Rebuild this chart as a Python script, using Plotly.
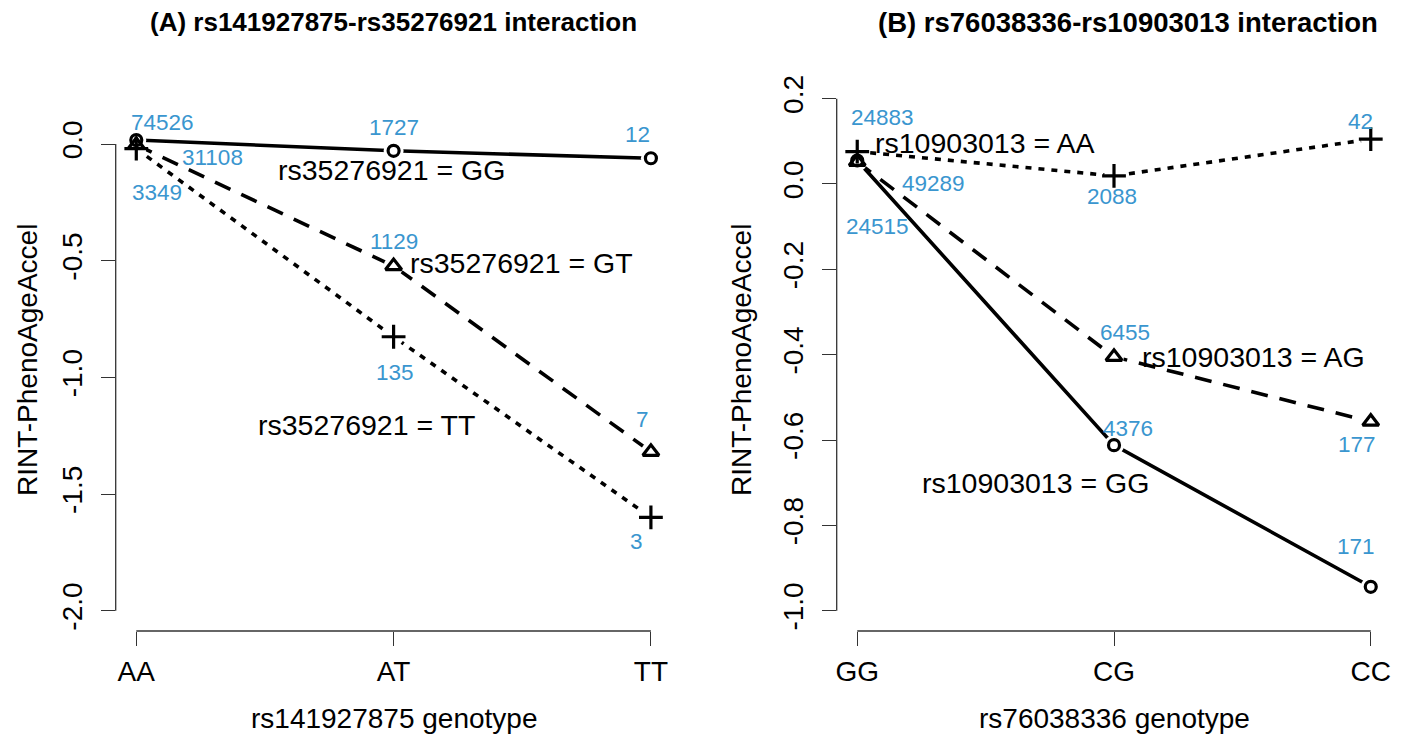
import plotly.graph_objects as go

# ---------------- data ----------------
a_categories = ["AA", "AT", "TT"]
a_series = ["rs35276921 = GG", "rs35276921 = GT", "rs35276921 = TT"]
a_gg = [0.017, -0.029, -0.061]
a_gt = [-0.004, -0.523, -1.319]
a_tt = [-0.020, -0.826, -1.600]
a_n_gg = [74526, 1727, 12]
a_n_gt = [31108, 1129, 7]
a_n_tt = [3349, 135, 3]
a_yticks = [0.0, -0.5, -1.0, -1.5, -2.0]

b_categories = ["GG", "CG", "CC"]
b_series = ["rs10903013 = AA", "rs10903013 = AG", "rs10903013 = GG"]
b_aa = [0.076, 0.019, 0.105]
b_ag = [0.052, -0.405, -0.557]
b_gg = [0.055, -0.612, -0.944]
b_n_aa = [24883, 2088, 42]
b_n_ag = [49289, 6455, 177]
b_n_gg = [24515, 4376, 171]
b_yticks = [0.2, 0.0, -0.2, -0.4, -0.6, -0.8, -1.0]

titles = ["(A) rs141927875-rs35276921 interaction", "(B) rs76038336-rs10903013 interaction"]
xtitles = ["rs141927875 genotype", "rs76038336 genotype"]
ytitle = "RINT-PhenoAgeAccel"

# ---------------- styles / positions ----------------
FONT = "Liberation Sans"
BLUE = "#3A96CF"
AXC = "#333333"
OFF = 8                      # page body margin of the browser
W, H = 1404 - OFF, 740 - OFF  # figure size


def px(x):
    return (x - OFF) / W


def py(y):
    return 1 - (y - OFF) / H


LW = 3.6
SOLID = dict(dash="solid", symbol="circle-open", size=11)
DASHED = dict(dash="17px,12px", symbol="triangle-up-open", size=14)
DOTTED = dict(dash="6px,7px", symbol="cross-thin-open", size=17)
a_styles = [SOLID, DASHED, DOTTED]
b_styles = [DOTTED, DASHED, SOLID]

# count label offsets (px) per series per category
a_off = [[(26, 18), (0, 23), (-13, 24)],
         [(76, -13), (0, 25), (-8, 32)],
         [(21, -44), (1, -36), (-14, -24)]]
b_off = [[(25, 34), (-2, -21), (-10, 18)],
         [(76, -22), (11, 24), (-14, -23)],
         [(20, -66), (14, 17), (-15, 40)]]
# series label positions (data coords)
a_lab_pos = [(1.993, -0.111), (2.497, -0.511), (1.896, -1.204)]
b_lab_pos = [(1.496, 0.096), (2.545, -0.405), (1.694, -0.701)]

ydom = [py(631), py(78)]
a_xdom = [px(115.7), px(671.5)]
b_xdom = [px(836.7), px(1391.3)]
a_yrange = [-2.087, 0.283]
b_yrange = [-1.0476, 0.2484]
xrange_ = [0.92, 3.08]
xpos = [1, 2, 3]

fig = go.Figure()

panels = [
    dict(xa="x", ya="y", series=[a_gg, a_gt, a_tt], counts=[a_n_gg, a_n_gt, a_n_tt],
         names=a_series, off=a_off, labpos=a_lab_pos, styles=a_styles),
    dict(xa="x2", ya="y2", series=[b_aa, b_ag, b_gg], counts=[b_n_aa, b_n_ag, b_n_gg],
         names=b_series, off=b_off, labpos=b_lab_pos, styles=b_styles),
]

for p in panels:
    for i, ys in enumerate(p["series"]):
        st = p["styles"][i]
        fig.add_trace(go.Scatter(x=xpos, y=ys, mode="lines", xaxis=p["xa"], yaxis=p["ya"],
                                 line=dict(color="black", width=LW, dash=st["dash"]),
                                 showlegend=False, hoverinfo="skip"))
    for i, ys in enumerate(p["series"]):
        fig.add_trace(go.Scatter(x=xpos, y=ys, mode="markers", xaxis=p["xa"], yaxis=p["ya"],
                                 marker=dict(symbol="circle", size=20, color="white"),
                                 showlegend=False, hoverinfo="skip"))
    for i, ys in enumerate(p["series"]):
        st = p["styles"][i]
        fig.add_trace(go.Scatter(x=xpos, y=ys, mode="markers", xaxis=p["xa"], yaxis=p["ya"],
                                 marker=dict(symbol=st["symbol"], size=st["size"], color="black",
                                             line=dict(color="black", width=3.2)),
                                 name=p["names"][i], showlegend=False))
    for i, ys in enumerate(p["series"]):
        for j in range(3):
            dx, dy = p["off"][i][j]
            fig.add_annotation(x=xpos[j], y=ys[j], xref=p["xa"], yref=p["ya"],
                               text=str(p["counts"][i][j]), showarrow=False,
                               xanchor="center", yanchor="middle",
                               xshift=dx, yshift=dy,
                               font=dict(family=FONT, size=22.5, color=BLUE))
    for i, (lx, ly) in enumerate(p["labpos"]):
        fig.add_annotation(x=lx, y=ly, xref=p["xa"], yref=p["ya"], text=p["names"][i],
                           xanchor="center", yanchor="middle",
                           showarrow=False, font=dict(family=FONT, size=28.5, color="black"))

# axis lines (R style: only between extreme ticks)
for xa, ya, yt in [("x", "y", a_yticks), ("x2", "y2", b_yticks)]:
    fig.add_shape(type="line", xref=f"{xa} domain", yref=ya, x0=0, x1=0,
                  y0=min(yt), y1=max(yt), line=dict(color=AXC, width=1.3))
    fig.add_shape(type="line", xref=xa, yref=f"{ya} domain", x0=xpos[0], x1=xpos[-1],
                  y0=0, y1=0, line=dict(color=AXC, width=1.3))

axis_common = dict(showgrid=False, zeroline=False, showline=False, ticks="outside",
                   ticklen=14, tickwidth=1.3, tickcolor=AXC, automargin=False,
                   tickfont=dict(family=FONT, size=28, color="black"))

fig.update_layout(
    width=W, height=H, autosize=False,
    margin=dict(l=0, r=0, t=0, b=0, pad=0),
    paper_bgcolor="white", plot_bgcolor="white",
    xaxis=dict(domain=a_xdom, range=xrange_, tickvals=xpos, ticktext=a_categories,
               anchor="y", ticklabelstandoff=1, **axis_common),
    yaxis=dict(domain=ydom, range=a_yrange, tickvals=a_yticks,
               ticktext=[f"{v:.1f}" for v in a_yticks], tickangle=-90, anchor="x",
               ticklabelstandoff=8, **axis_common),
    xaxis2=dict(domain=b_xdom, range=xrange_, tickvals=xpos, ticktext=b_categories,
                anchor="y2", ticklabelstandoff=1, **axis_common),
    yaxis2=dict(domain=ydom, range=b_yrange, tickvals=b_yticks,
                ticktext=[f"{v:.1f}" for v in b_yticks], tickangle=-90, anchor="x2",
                ticklabelstandoff=8, **axis_common),
)

title_pos = [(393, 26), (1128, 27.5)]
xtitle_cx = [(115.7 + 671.5) / 2, (836.7 + 1391.3) / 2]
ytitle_x = [27, 741]
for k in range(2):
    tx, tsize = title_pos[k]
    fig.add_annotation(x=px(tx), y=py(22), xref="paper", yref="paper", text=f"<b>{titles[k]}</b>",
                       xanchor="center", yanchor="middle",
                       showarrow=False, font=dict(family=FONT, size=tsize, color="black"))
    fig.add_annotation(x=px(xtitle_cx[k]), y=py(718), xref="paper", yref="paper", text=xtitles[k],
                       xanchor="center", yanchor="middle",
                       showarrow=False, font=dict(family=FONT, size=28, color="black"))
    fig.add_annotation(x=px(ytitle_x[k]), y=py(360), xref="paper", yref="paper", text=ytitle,
                       xanchor="center", yanchor="middle",
                       textangle=-90, showarrow=False, font=dict(family=FONT, size=28, color="black"))

fig.write_html("out.html")
